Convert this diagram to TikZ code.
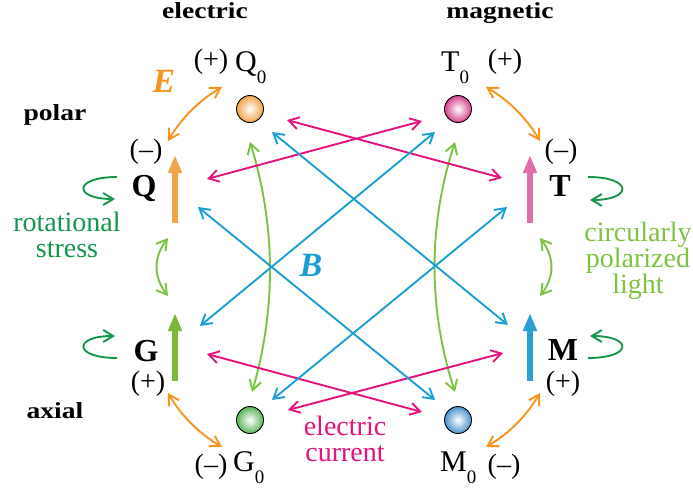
\documentclass[tikz,border=0pt]{standalone}
\usepackage{fontspec}
\setmainfont{Liberation Serif}
\usetikzlibrary{arrows.meta}
\definecolor{orA}{HTML}{F7941D}
\definecolor{orQ}{HTML}{F0A54A}
\definecolor{pkT}{HTML}{E26EAA}
\definecolor{pkS}{HTML}{D5418C}
\definecolor{grG}{HTML}{7DB73B}
\definecolor{grS}{HTML}{59B45A}
\definecolor{blM}{HTML}{2A9FD1}
\definecolor{blS}{HTML}{4A92CC}
\definecolor{mag}{HTML}{E5127D}
\definecolor{bll}{HTML}{1A9FD4}
\definecolor{lgr}{HTML}{7DC241}
\definecolor{dgr}{HTML}{14964B}
\newcommand\zsub{\raisebox{-12pt}{\fontsize{19}{19}\selectfont 0}}
\begin{document}
\begin{tikzpicture}[x=1pt,y=-1pt,
  >={Straight Barb[length=10pt,width=12pt]},
  conn/.style={line width=1.9pt,<->},
  curl/.style={line width=1.9pt,->,dgr},
  bar/.style={line width=6pt,-{Triangle[length=18pt,width=13pt]}},
  sph/.style={circle,draw=black,line width=0.9pt,minimum size=27pt,inner sep=0pt,shading=radial,inner color=white},
  head/.style={inner sep=0pt,anchor=base,font=\fontsize{23}{23}\selectfont\bfseries},
  lbl/.style={inner sep=0pt,font=\fontsize{28}{28}\selectfont},
  lbq/.style={inner sep=0pt,anchor=base west,font=\fontsize{30}{30}\selectfont},
  bld/.style={inner sep=0pt,anchor=base,font=\fontsize{32}{32}\selectfont\bfseries},
  txt/.style={inner sep=0pt,align=center,font=\fontsize{28}{26}\selectfont},
  emph/.style={inner sep=0pt,font=\fontsize{34}{34}\selectfont\bfseries\itshape}]
\useasboundingbox (0,0) rectangle (693,498);
% headings
\node[head] (he) at (205,18) {\scalebox{1.2}[1]{electric}};
\node[head] (hm) at (500,18) {\scalebox{1.2}[1]{magnetic}};
\node[head] (hp) at (55,120) {\scalebox{1.2}[1]{polar}};
\node[head] (ha) at (55,418) {\scalebox{1.2}[1]{axial}};
% spheres
\node[sph,outer color=orQ] (Q0) at (250,109) {};
\node[sph,outer color=pkS] (T0) at (458,109) {};
\node[sph,outer color=grS] (G0) at (250,420) {};
\node[sph,outer color=blS] (M0) at (458,420) {};
% sphere labels
\node[lbl,anchor=base] (q0s) at (211,68) {(+)};
\node[lbq] (q0l) at (235,71) {Q\zsub};
\node[lbq] (t0l) at (441,71) {T\zsub};
\node[lbl,anchor=base] (t0s) at (505,68) {(+)};
\node[lbl,anchor=base] (g0s) at (211,473) {(–)};
\node[lbq] (g0l) at (233,471) {G\zsub};
\node[lbq] (m0l) at (440,471) {M\zsub};
\node[lbl,anchor=base] (m0s) at (504,473) {(–)};
% vector labels
\node[lbl,anchor=base] (qs) at (146,158) {(–)};
\node[bld] (ql) at (144,196) {Q};
\node[lbl,anchor=base] (ts) at (561,158) {(–)};
\node[bld] (tl) at (560,196) {T};
\node[bld] (gl) at (146,361) {G};
\node[lbl,anchor=base] (gs) at (148,390) {(+)};
\node[bld] (ml) at (563,360) {M};
\node[lbl,anchor=base] (ms) at (563,390) {(+)};
% bars
\coordinate (qb0) at (175,223); \coordinate (qb1) at (175,155);
\coordinate (tb0) at (530,223); \coordinate (tb1) at (530,155);
\coordinate (gb0) at (175,381); \coordinate (gb1) at (175,313);
\coordinate (mb0) at (530,381); \coordinate (mb1) at (530,313);
\draw[bar,orQ] (qb0) -- (qb1);
\draw[bar,pkT] (tb0) -- (tb1);
\draw[bar,grG] (gb0) -- (gb1);
\draw[bar,blM] (mb0) -- (mb1);
% orange arcs
\coordinate (oa1) at (222,87); \coordinate (oa2) at (168,141);
\coordinate (ob1) at (486,87); \coordinate (ob2) at (540,141);
\coordinate (oc1) at (168,393); \coordinate (oc2) at (222,447);
\coordinate (od1) at (540,393); \coordinate (od2) at (486,447);
\draw[conn,orA] (oa1) .. controls (199.3,100.3) and (181.3,118.3) .. (oa2);
\draw[conn,orA] (ob1) .. controls (508.7,100.3) and (526.7,118.3) .. (ob2);
\draw[conn,orA] (oc1) .. controls (181.3,415.7) and (199.3,433.7) .. (oc2);
\draw[conn,orA] (od1) .. controls (526.7,415.7) and (508.7,433.7) .. (od2);
% light green arcs
\coordinate (ga1) at (168,238); \coordinate (ga2) at (168,296);
\coordinate (gb1x) at (540,238); \coordinate (gb2x) at (540,296);
\draw[conn,lgr] (ga1) .. controls (153.3,257.3) and (153.3,276.7) .. (ga2);
\draw[conn,lgr] (gb1x) .. controls (554.7,257.3) and (554.7,276.7) .. (gb2x);
\coordinate (gl1) at (250,142); \coordinate (gl2) at (252,392);
\coordinate (gr1) at (455,142); \coordinate (gr2) at (455,392);
\draw[conn,lgr] (gl1) .. controls (275.7,225.3) and (276.3,308.7) .. (gl2);
\draw[conn,lgr] (gr1) .. controls (428,225.3) and (428,308.7) .. (gr2);
% magenta lines
\coordinate (m1a) at (207,179); \coordinate (m1b) at (422,121);
\coordinate (m2a) at (287,120); \coordinate (m2b) at (502,178);
\coordinate (m3a) at (207,354); \coordinate (m3b) at (422,412);
\coordinate (m4a) at (288,410); \coordinate (m4b) at (503,353);
\draw[conn,mag] (m1a) -- (m1b);
\draw[conn,mag] (m2a) -- (m2b);
\draw[conn,mag] (m3a) -- (m3b);
\draw[conn,mag] (m4a) -- (m4b);
% blue lines
\coordinate (b1a) at (198,207); \coordinate (b1b) at (435,400);
\coordinate (b2a) at (272,132); \coordinate (b2b) at (508,325);
\coordinate (b3a) at (435,132); \coordinate (b3b) at (200,326);
\coordinate (b4a) at (507,207); \coordinate (b4b) at (272,400);
\draw[conn,bll] (b1a) -- (b1b);
\draw[conn,bll] (b2a) -- (b2b);
\draw[conn,bll] (b3a) -- (b3b);
\draw[conn,bll] (b4a) -- (b4b);
% curls
\coordinate (c1a) at (117,177); \coordinate (c1b) at (115,199);
\coordinate (c2a) at (117,358); \coordinate (c2b) at (115,336);
\coordinate (c3a) at (588,177); \coordinate (c3b) at (590,200);
\coordinate (c4a) at (588,358); \coordinate (c4b) at (590,336);
\draw[curl] (c1a) .. controls (73,177) and (73,199) .. (c1b);
\draw[curl] (c2a) .. controls (73,358) and (73,336) .. (c2b);
\draw[curl] (c3a) .. controls (633,177) and (633,200) .. (c3b);
\draw[curl] (c4a) .. controls (633,358) and (633,336) .. (c4b);
% texts
\node[emph,orA] (E) at (164,81) {E};
\node[emph,bll] (B) at (311,265) {B};
\node[txt,dgr,anchor=base] (rs) at (67,257) {rotational\\stress};
\node[txt,lgr,anchor=base] (cp) at (638,293) {circularly\\polarized\\light};
\node[txt,mag,anchor=base] (ec) at (345,461) {electric\\current};
\end{tikzpicture}
\end{document}
